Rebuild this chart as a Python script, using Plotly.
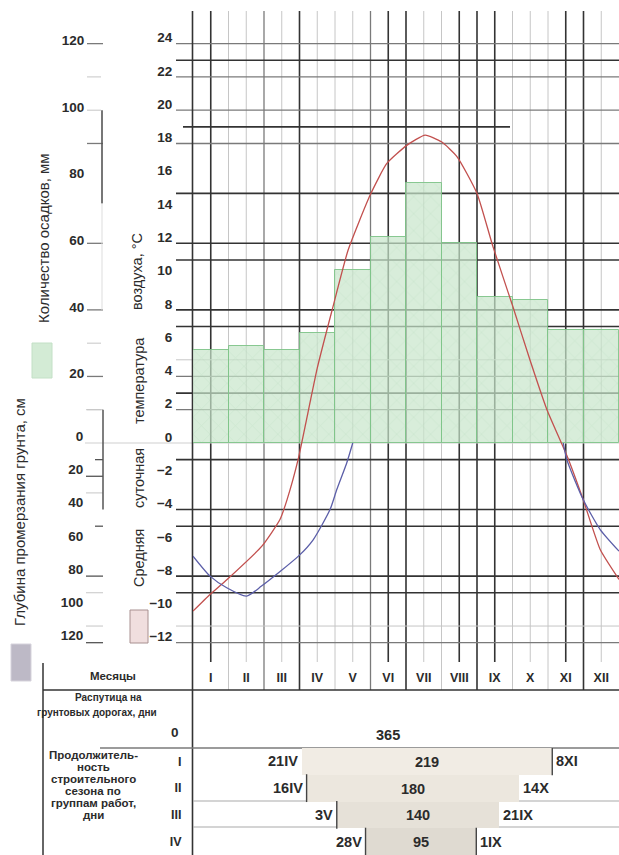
import plotly.graph_objects as go

W, H = 619, 855


def px(x):
    return x / W


def py(y):
    return 1 - y / H


# ---------------- data ----------------
MONTHS = ["I", "II", "III", "IV", "V", "VI", "VII", "VIII", "IX", "X", "XI", "XII"]
PRECIP_MM = [28, 29, 28, 33, 52, 62, 78, 60, 44, 43, 34, 34]

TEMP_X = [0.0, 0.48, 0.96, 1.94, 2.45, 2.65, 2.96, 3.5, 3.92, 4.37, 4.99, 5.46,
          6.03, 6.54, 7.0, 7.44, 8.0, 8.45, 9.01, 9.49, 9.97, 10.54, 10.99, 11.47, 12.0]
TEMP_C = [-10.1, -9.1, -8.2, -6.2, -4.6, -3.4, -1.0, 4.5, 8.0, 11.6, 14.9, 16.8,
          17.9, 18.5, 18.1, 17.2, 15.0, 11.8, 8.2, 5.0, 2.0, -0.8, -3.4, -6.4, -8.2]

FROST_SPRING_X = [0.0, 0.48, 0.95, 1.51, 1.93, 2.97, 3.39, 3.86, 4.05, 4.33, 4.5]
FROST_SPRING_CM = [68, 80, 87, 92, 86, 68, 58, 40, 28, 12, 0]
FROST_AUTUMN_X = [10.43, 10.53, 10.99, 11.47, 12.0]
FROST_AUTUMN_CM = [0, 10, 34, 52, 65]

TEMP_TICKS = list(range(-12, 25, 2))
PRECIP_TICKS = [20, 40, 60, 80, 100, 120]
FROST_TICKS = [0, 20, 40, 60, 80, 100, 120]

SEASON_GROUPS = ["I", "II", "III", "IV"]
SEASON_DAYS = [219, 180, 140, 95]
SEASON_START_LABEL = ["21IV", "16IV", "3V", "28V"]
SEASON_END_LABEL = ["8XI", "14X", "21IX", "1IX"]
SEASON_START = [3.06, 3.20, 4.05, 4.86]
SEASON_END = [10.12, 9.19, 8.63, 7.98]
RASPUTITSA_DAYS = 0
YEAR_DAYS = 365

# ---------------- styling constants ----------------
FONT = "Liberation Sans, Arial, sans-serif"
TXT = "#2b2b2b"
DARK, MED, LIGHT = "#333333", "#7a7a7a", "#c6c6c6"

T_TOP = (443 - 10) / 16.64
T_BOT = (443 - 663) / 16.64

V_DARK = [0.5, 3, 5.5, 6, 7.5, 8, 8.5, 10.5, 11]
V_MED = [2, 5]
V_LIGHT = [1, 1.5, 2.5, 3.5, 4, 4.5, 6.5, 7, 9, 9.5, 10, 11.5]
H_DARK = [23, 15, 12, 11, 8, 7, 3, -1, -4, -5, -8, -9]
H_MED = [24, 22, 20, 18, 4, 2, -12]
H_LIGHT = [5, -11]

fig = go.Figure()

# precipitation bars
fig.add_trace(go.Bar(
    x=[i + 0.5 for i in range(len(MONTHS))], y=PRECIP_MM, width=1.0,
    xaxis="x", yaxis="y",
    marker=dict(color="rgba(200,230,203,0.70)",
                line=dict(color="rgba(125,195,135,0.9)", width=1),
                pattern=dict(shape="x", fgcolor="rgba(150,200,158,0.40)", size=12, solidity=0.12)),
    hoverinfo="skip", showlegend=False))

# temperature curve
fig.add_trace(go.Scatter(
    x=TEMP_X, y=TEMP_C, mode="lines", xaxis="x", yaxis="y2",
    line=dict(color="#c2504e", width=1.3, shape="spline", smoothing=0.5),
    hoverinfo="skip", showlegend=False))

# frost depth curves
for fx, fy in [(FROST_SPRING_X, FROST_SPRING_CM), (FROST_AUTUMN_X, FROST_AUTUMN_CM)]:
    fig.add_trace(go.Scatter(
        x=fx, y=fy, mode="lines", xaxis="x", yaxis="y3",
        line=dict(color="#5b5ea8", width=1.3, shape="spline", smoothing=0.6),
        hoverinfo="skip", showlegend=False))

# construction season bars
fig.add_trace(go.Bar(
    orientation="h", y=SEASON_GROUPS,
    x=[e - s for s, e in zip(SEASON_START, SEASON_END)], base=SEASON_START,
    width=1.0, xaxis="x2", yaxis="y4",
    text=[str(d) for d in SEASON_DAYS], textposition="inside",
    insidetextanchor="middle", constraintext="none",
    textfont=dict(family=FONT, size=14.5, color=TXT, weight="bold"),
    marker=dict(color=["#f1ece4", "#ece7de", "#e6e1d8", "#dfdad1"], line=dict(width=0)),
    hoverinfo="skip", showlegend=False))

shapes = []


def line(x0, y0, x1, y1, color, width, xref="paper", yref="paper"):
    shapes.append(dict(type="line", x0=x0, y0=y0, x1=x1, y1=y1, xref=xref, yref=yref,
                       line=dict(color=color, width=width), layer="below"))


# vertical grid
for vals, col, w in [(V_LIGHT, LIGHT, 1), (V_MED, MED, 1.3), (V_DARK, DARK, 1.6)]:
    for v in vals:
        bottom = 690 if float(v).is_integer() else 662
        line(v, py(11), v, py(bottom), col, w, xref="x")

# horizontal grid (temperature units)
for vals, col, w in [(H_LIGHT, LIGHT, 1), (H_MED, MED, 1.3), (H_DARK, DARK, 1.6)]:
    for v in vals:
        line(px(176), v, 1, v, col, w, yref="y2")
line(px(183), 19, px(510), 19, DARK, 1.6, yref="y2")
line(px(85), 0, 1, 0, "#cfcfcf", 1, yref="y2")

# precipitation axis decorations
for v in [120, 90, 60, 40, 20]:
    line(px(87), v, px(103), v, MED, 1.3, yref="y")
for v in [110, 100, 30, 10]:
    line(px(87), v, px(101), v, LIGHT, 1, yref="y")
line(px(102), 72, px(102), 100, "#555555", 1.6, yref="y")
line(px(102), 40, px(102), 72, "#dddddd", 1, yref="y")

# frost axis decorations
for v in [20, 80, 120]:
    line(px(86), v, px(103), v, "#555555", 1.3, yref="y3")
for v in [10, 50]:
    line(px(95), v, px(103), v, "#555555", 1.3, yref="y3")
for v in [30, 90, 110, -20]:
    line(px(86), v, px(103), v, LIGHT, 1, yref="y3")
line(px(103), -20, px(103), 40, "#555555", 1.5, yref="y3")

# main axis line through the table
line(px(192.5), py(11), px(192.5), py(855), DARK, 1.6)
# table frame
line(px(43), py(663), px(43), py(855), DARK, 1.5)
line(px(43), py(690), 1, py(690), DARK, 1.6)
line(px(100), py(748), 1, py(748), MED, 1.4)
line(px(193), py(801), 1, py(801), "#aaaaaa", 1.1)
line(px(193), py(827), 1, py(827), "#aaaaaa", 1.1)

# season bar edges
for i, xv in [(0, SEASON_END[0]), (1, SEASON_START[1]), (2, SEASON_START[2]),
              (3, SEASON_START[3]), (3, SEASON_END[3])]:
    shapes.append(dict(type="line", x0=xv, x1=xv, y0=i - 0.52, y1=i + 0.52, xref="x2", yref="y4",
                       line=dict(color="#444444", width=1.4), layer="above"))

# legend swatches
shapes.append(dict(type="rect", xref="paper", yref="paper", x0=px(32), x1=px(52), y0=py(378), y1=py(343),
                   fillcolor="#d3ebd5", line=dict(color="#c3e0c6", width=1)))
shapes.append(dict(type="rect", xref="paper", yref="paper", x0=px(130), x1=px(148), y0=py(643), y1=py(610),
                   fillcolor="#f0dede", line=dict(color="#a89090", width=1)))
shapes.append(dict(type="rect", xref="paper", yref="paper", x0=px(11), x1=px(31), y0=py(681), y1=py(644),
                   fillcolor="#bdb9c6", line=dict(color="#d6d3dc", width=1)))

annotations = []


def ann(text, x, y, size, angle=0, bold=False, xref="paper", yref="paper", xanchor="center", xshift=0):
    annotations.append(dict(text=text, x=x, y=y, xref=xref, yref=yref, showarrow=False,
                            textangle=angle, xanchor=xanchor, yanchor="middle", xshift=xshift,
                            font=dict(family=FONT, size=size, color=TXT,
                                      weight="bold" if bold else "normal")))


ann("Количество осадков, мм", px(43), py(238), 15, angle=-90)
ann("Глубина промерзания грунта, см", px(19), py(512), 15, angle=-90)
ann("воздуха, °C", px(137), py(272), 14.5, angle=-90)
ann("температура", px(139), py(381), 14.5, angle=-90)
ann("суточная", px(139), py(478), 14.5, angle=-90)
ann("Средняя", px(139), py(558), 14.5, angle=-90)

ann("Месяцы", px(113), py(676), 11.5, bold=True)
ann("Распутица на", px(108), py(697), 10, bold=True)
ann("грунтовых дорогах, дни", px(97), py(712), 10, bold=True)
ann(str(RASPUTITSA_DAYS), px(175), py(732), 13.5, bold=True)
ann(str(YEAR_DAYS), 5.5, py(735), 14.5, bold=True, xref="x")
for t, yy in [("Продолжитель-", 755), ("ность", 767), ("строительного", 779),
              ("сезона по", 791), ("группам работ,", 803), ("дни", 815)]:
    ann(t, px(93), py(yy), 11.5, bold=True)

for i, g in enumerate(SEASON_GROUPS):
    ann(SEASON_START_LABEL[i], SEASON_START[i], g, 14.5, bold=True, xref="x2", yref="y4",
        xanchor="right", xshift=-2)
    ann(SEASON_END_LABEL[i], SEASON_END[i], g, 14.5, bold=True, xref="x2", yref="y4",
        xanchor="left", xshift=2)

tickfont = dict(family=FONT, size=13.5, color=TXT, weight="bold")
clear = "rgba(0,0,0,0)"

fig.update_layout(
    width=W, height=H, margin=dict(l=0, r=0, t=0, b=0),
    paper_bgcolor="white", plot_bgcolor="white", showlegend=False,
    bargap=0, barmode="overlay",
    shapes=shapes, annotations=annotations,
    xaxis=dict(domain=[px(193), 1], range=[0, 12], anchor="y",
               tickmode="array", tickvals=[i + 0.5 for i in range(12)], ticktext=MONTHS,
               ticks="outside", ticklen=3, tickcolor=clear,
               tickfont=dict(family=FONT, size=12.5, color=TXT, weight="bold"),
               showgrid=False, zeroline=False, showline=False, fixedrange=True),
    xaxis2=dict(domain=[px(193), 1], range=[0, 12], anchor="y4", visible=False),
    yaxis=dict(domain=[py(663), py(10)], range=[T_BOT * 5, T_TOP * 5],
               anchor="free", position=px(103), side="left",
               tickmode="array", tickvals=PRECIP_TICKS, ticks="outside", ticklen=16,
               tickcolor=clear, ticklabelshift=-3, tickfont=tickfont,
               showgrid=False, zeroline=False, showline=False),
    yaxis2=dict(overlaying="y", range=[T_BOT, T_TOP], anchor="free", position=px(192),
                side="left", tickmode="array", tickvals=TEMP_TICKS, ticks="outside",
                ticklen=17, tickcolor=clear, ticklabelshift=-6, tickfont=tickfont,
                showgrid=False, zeroline=False, showline=False),
    yaxis3=dict(overlaying="y", range=[-T_BOT * 10, -T_TOP * 10], anchor="free",
                position=px(103), side="left", tickmode="array", tickvals=FROST_TICKS,
                ticks="outside", ticklen=17, tickcolor=clear, ticklabelshift=7,
                tickfont=tickfont, showgrid=False, zeroline=False, showline=False),
    yaxis4=dict(domain=[0, py(748)], anchor="x2", type="category",
                categoryorder="array", categoryarray=SEASON_GROUPS, range=[3.5, -0.5],
                ticks="outside", ticklen=8, tickcolor=clear,
                tickfont=dict(family=FONT, size=12.5, color=TXT, weight="bold"),
                showgrid=False, zeroline=False, showline=False),
)

fig.write_html("out.html")
